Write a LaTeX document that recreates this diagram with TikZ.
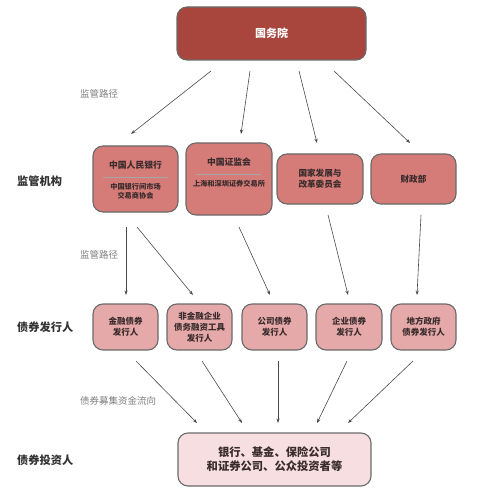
\documentclass[tikz,border=0pt]{standalone}
\usepackage{fontspec}
\setmainfont{Noto Sans CJK SC}
\usetikzlibrary{arrows.meta}
\definecolor{cgwy}{HTML}{A8453D}
\definecolor{creg}{HTML}{D57B78}
\definecolor{ciss}{HTML}{E6A9AA}
\definecolor{cinv}{HTML}{F6DEE1}
\definecolor{boxline}{HTML}{6A6A6A}
\definecolor{arrowc}{HTML}{4A4A4A}
\definecolor{labc}{HTML}{333333}
\definecolor{pathc}{HTML}{7E7E7E}
\definecolor{boxtext}{HTML}{3A2C2C}
\begin{document}
\begin{tikzpicture}[x=1pt,y=-1pt,
  box/.style={draw=boxline, line width=1.1pt, rounded corners=10pt, inner sep=0pt, align=center, text=boxtext},
  topbox/.style={box, fill=cgwy, text=white, font=\fontsize{11}{13}\selectfont\bfseries},
  regbox/.style={box, fill=creg, font=\fontsize{8.6}{11}\selectfont\bfseries},
  issbox/.style={box, fill=ciss, font=\fontsize{8.5}{11.2}\selectfont\bfseries},
  invbox/.style={box, fill=cinv, font=\fontsize{11.3}{14}\selectfont\bfseries},
  cat/.style={anchor=west, text=labc, font=\fontsize{11.2}{13}\selectfont\bfseries, inner sep=0pt},
  pathlab/.style={anchor=west, text=pathc, font=\fontsize{9.5}{11}\selectfont, inner sep=0pt},
  title/.style={text=boxtext, font=\fontsize{8.8}{11}\selectfont\bfseries, inner sep=0pt},
  sub/.style={text=boxtext, align=center, font=\fontsize{7.2}{8.6}\selectfont\bfseries, inner sep=0pt},
  divider/.style={draw=black!35, line width=0.4pt},
  arr/.style={draw=arrowc, line width=0.6pt, -{Stealth[length=4.5pt,width=3.2pt]}}
]
\useasboundingbox (0,0) rectangle (477,494);

% boxes
\node[topbox, minimum width=189pt, minimum height=53pt] (gwy) at (271.5,33.5) {国务院};

\node[regbox, minimum width=85pt, minimum height=66pt] (pbc) at (135.5,179) {};
\node[title] (pbct) at (135.5,165) {中国人民银行};
\draw[divider] (103,177) -- (168,177);
\node[sub] (pbcs) at (135.5,191) {中国银行间市场\\交易商协会};

\node[regbox, minimum width=86pt, minimum height=72pt] (csrc) at (229,179) {};
\node[title] (csrct) at (229,162) {中国证监会};
\draw[divider] (196,174) -- (261,174);
\node[sub] (csrcs) at (229,184) {上海和深圳证券交易所};

\node[regbox, minimum width=86pt, minimum height=50pt] (ndrc) at (320,179) {国家发展与\\改革委员会};
\node[regbox, minimum width=85pt, minimum height=50pt] (mof) at (413.5,179) {财政部};

\node[issbox, minimum width=65pt, minimum height=46pt] (i1) at (125.5,327) {金融债券\\发行人};
\node[issbox, minimum width=65pt, minimum height=46pt] (i2) at (199.5,327) {非金融企业\\债务融资工具\\发行人};
\node[issbox, minimum width=65pt, minimum height=46pt] (i3) at (274.5,327) {公司债券\\发行人};
\node[issbox, minimum width=66pt, minimum height=46pt] (i4) at (349,327) {企业债券\\发行人};
\node[issbox, minimum width=65pt, minimum height=46pt] (i5) at (423.5,327) {地方政府\\债券发行人};

\node[invbox, minimum width=193pt, minimum height=53pt] (inv) at (274.5,459.5) {银行、基金、保险公司\\和证券公司、公众投资者等};

% labels
\node[cat] (l1) at (17,181) {监管机构};
\node[cat] (l2) at (17,327) {债券发行人};
\node[cat] (l3) at (17,460) {债券投资人};
\node[pathlab] (p1) at (80,94) {监管路径};
\node[pathlab] (p2) at (80,255) {监管路径};
\node[pathlab] (p3) at (80,401) {债券募集资金流向};

% arrow end points
\coordinate (a1s) at (211,71);  \coordinate (a1e) at (131,134);
\coordinate (a2s) at (250,71);  \coordinate (a2e) at (241,134);
\coordinate (a3s) at (299,71);  \coordinate (a3e) at (317,143);
\coordinate (a4s) at (334,71);  \coordinate (a4e) at (410,143);
\coordinate (b1s) at (126,227); \coordinate (b1e) at (126,295);
\coordinate (b2s) at (137,227); \coordinate (b2e) at (193,295);
\coordinate (b3s) at (239,227); \coordinate (b3e) at (270,295);
\coordinate (b4s) at (328,215); \coordinate (b4e) at (348,295);
\coordinate (b5s) at (421,215); \coordinate (b5e) at (417,295);
\coordinate (c1s) at (136,361); \coordinate (c1e) at (197,423);
\coordinate (c2s) at (202,361); \coordinate (c2e) at (242,423);
\coordinate (c3s) at (278,361); \coordinate (c3e) at (278,423);
\coordinate (c4s) at (347,361); \coordinate (c4e) at (317,423);
\coordinate (c5s) at (413,361); \coordinate (c5e) at (348,423);

\foreach \s in {a1,a2,a3,a4,b1,b2,b3,b4,b5,c1,c2,c3,c4,c5}
  \draw[arr] (\s s) -- (\s e);
\end{tikzpicture}
\end{document}
